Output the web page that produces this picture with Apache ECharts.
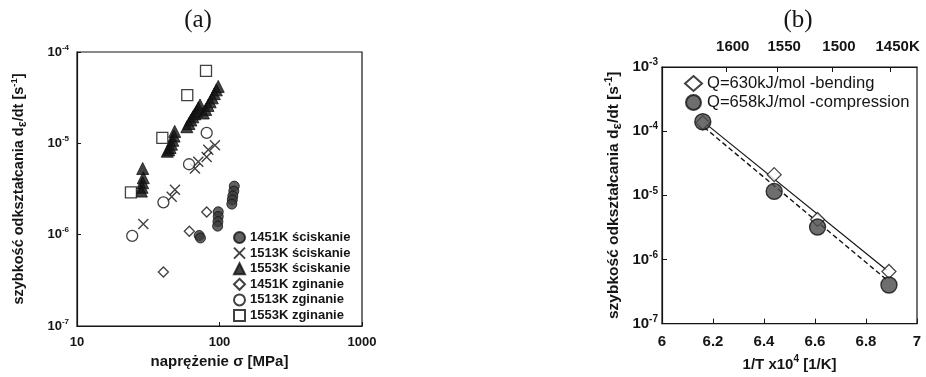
<!DOCTYPE html>
<html>
<head>
<meta charset="utf-8">
<script src="https://cdn.jsdelivr.net/npm/echarts@6/dist/echarts.min.js"></script>
<style>
  html, body { margin: 0; padding: 0; background: #fff; }
  #chart { width: 926px; height: 377px; }
</style>
</head>
<body>
<div id="chart"></div>
<script>
// (a) strain rate vs stress, [stress MPa, rate 1/s]
const comp1451 = [[72, 9.8e-7], [73.5, 9.2e-7], [98, 1.78e-6], [98, 1.58e-6], [97.5, 1.39e-6], [97, 1.24e-6],
  [127, 3.4e-6], [126, 3.0e-6], [124, 2.65e-6], [123, 2.4e-6], [122, 2.16e-6]]
const comp1513 = [[29.2, 1.31e-6], [48.7, 3.1e-6], [46.2, 2.6e-6], [71, 6.3e-6], [67.3, 5.3e-6],
  [92.9, 9.5e-6], [83.4, 8.5e-6], [81.3, 7.1e-6]]
const comp1553 = [[28.9, 5.3e-6], [29.2, 4.2e-6], [28.9, 3.7e-6], [28.6, 3.3e-6], [28.3, 3.0e-6],
  [48.5, 1.35e-5], [48, 1.2e-5], [47, 1.08e-5], [46, 9.8e-6], [45, 9.0e-6], [44, 8.5e-6], [43, 8.2e-6],
  [59, 1.52e-5], [61, 1.65e-5], [63, 1.8e-5], [65, 1.95e-5], [67, 2.1e-5], [69, 2.25e-5], [71, 2.45e-5], [73, 2.63e-5],
  [77, 2.15e-5], [80, 2.35e-5], [83, 2.6e-5], [86, 2.85e-5], [89, 3.15e-5], [92, 3.5e-5], [95, 3.85e-5], [98, 4.2e-5]]
const bend1451 = [[40.4, 3.9e-7], [61.4, 1.09e-6], [81.3, 1.77e-6]]
const bend1513 = [[24.4, 9.7e-7], [40.4, 2.26e-6], [61.1, 5.9e-6], [81.3, 1.3e-5]]
const bend1553 = [[23.9, 2.9e-6], [39.7, 1.15e-5], [59.4, 3.38e-5], [80.4, 6.2e-5]]
const namesA = ['1451K ściskanie', '1513K ściskanie', '1553K ściskanie', '1451K zginanie', '1513K zginanie', '1553K zginanie']

// (b) Arrhenius plot
const invT = [6.16, 6.44, 6.61, 6.89]
const bendRate = [1.35e-4, 2.1e-5, 4.2e-6, 6.5e-7]
const compRate = [1.4e-4, 1.15e-5, 3.2e-6, 4.0e-7]
const bendFitX = [6.165, 6.882]
const bendFitY = [1.37e-4, 6.8e-7]
const compFitX = [6.165, 6.882]
const compFitY = [1.15e-4, 4.8e-7]
const topTemps = [1600, 1550, 1500, 1450]
const namesB = ['Q=630kJ/mol -bending', 'Q=658kJ/mol -compression']

const font = 'Liberation Sans'
const ink = '#151515'
const pow10 = v => `{b|10}{s|${Math.round(Math.log10(v))}}`
const rateName = '{n|szybkość odkształcania d}{e|ε}{n|/dt [s}{p|-1}{n|]}'
const nameRich = size => ({
  n: { fontFamily: font, fontSize: size, fontWeight: 'bold', color: ink, lineHeight: size + 5 },
  e: { fontFamily: font, fontSize: size - 2, fontWeight: 'bold', color: ink, verticalAlign: 'bottom', lineHeight: size + 5 },
  p: { fontFamily: font, fontSize: size - 5, fontWeight: 'bold', color: ink, verticalAlign: 'top', lineHeight: size + 5 }
})
const powRich = size => ({
  b: { fontFamily: font, fontSize: size, fontWeight: 'bold', color: ink, lineHeight: size + 4 },
  s: { fontFamily: font, fontSize: size - 5, fontWeight: 'bold', color: ink, verticalAlign: 'top', lineHeight: size + 4 }
})
const tickLabel = { fontFamily: font, fontSize: 13, fontWeight: 'bold', color: ink }
const crossPath = 'path://M0,0L10,10M10,0L0,10'

const chart = echarts.init(document.getElementById('chart'))

const option = {
  backgroundColor: '#fff',
  animation: false,
  graphic: [
    { type: 'text', x: 198, y: 20, style: { text: '(a)', font: '25px "Liberation Serif"', fill: ink, textAlign: 'center', textVerticalAlign: 'middle' } },
    { type: 'text', x: 798, y: 20, style: { text: '(b)', font: '25px "Liberation Serif"', fill: ink, textAlign: 'center', textVerticalAlign: 'middle' } }
  ],
  grid: [
    { left: 77, top: 52, width: 285, height: 274, show: true, borderColor: ink, borderWidth: 1.2 },
    { left: 662, top: 67, width: 255, height: 268, show: true, borderColor: ink, borderWidth: 1.2 }
  ],
  legend: [
    {
      data: namesA.map(n => ({ name: n })),
      orient: 'vertical',
      left: 233,
      top: 231,
      padding: 0,
      itemGap: 2.6,
      itemWidth: 11,
      itemHeight: 11,
      textStyle: { fontFamily: font, fontSize: 13, fontWeight: 'bold', color: ink }
    },
    {
      data: namesB.map(n => ({ name: n })),
      orient: 'vertical',
      left: 684,
      top: 75,
      padding: 0,
      itemGap: 2,
      itemWidth: 17,
      itemHeight: 15,
      textStyle: { fontFamily: font, fontSize: 16.6, color: ink }
    }
  ],
  xAxis: [
    {
      type: 'log', logBase: 10, min: 10, max: 1000, gridIndex: 0,
      name: 'naprężenie σ [MPa]', nameLocation: 'middle', nameGap: 28,
      nameTextStyle: { fontFamily: font, fontSize: 15, fontWeight: 'bold', color: ink },
      axisLine: { lineStyle: { color: ink, width: 1.2 } },
      axisTick: { inside: true, length: 4, lineStyle: { color: ink } },
      axisLabel: Object.assign({ margin: 10, formatter: v => String(Math.round(v)) }, tickLabel),
      splitLine: { show: false }
    },
    {
      type: 'value', min: 6, max: 7, interval: 0.2, gridIndex: 1,
      name: '{n|1/T x10}{p|4}{n| [1/K]}', nameLocation: 'middle', nameGap: 24,
      nameTextStyle: { rich: nameRich(15) },
      axisLine: { lineStyle: { color: ink, width: 1.2 } },
      axisTick: { inside: true, length: 5, lineStyle: { color: ink } },
      axisLabel: Object.assign({ margin: 11, formatter: v => +v.toFixed(1) + '' }, tickLabel, { fontSize: 15 }),
      splitLine: { show: false }
    },
    {
      type: 'value', min: 6, max: 7, gridIndex: 1, position: 'top',
      axisLine: { lineStyle: { color: ink, width: 1.2 } },
      axisTick: { inside: true, length: 5, customValues: topTemps.map(t => 1e4 / t), lineStyle: { color: ink } },
      axisLabel: Object.assign({
        margin: 13,
        padding: [0, 0, 0, 14],
        customValues: topTemps.map(t => 1e4 / t),
        formatter: v => {
          const t = Math.round(1e4 / v)
          return t === topTemps[topTemps.length - 1] ? t + 'K' : t + ''
        }
      }, tickLabel, { fontSize: 15 }),
      splitLine: { show: false }
    }
  ],
  yAxis: [
    {
      type: 'log', logBase: 10, min: 1e-7, max: 1e-4, gridIndex: 0,
      name: rateName, nameLocation: 'middle', nameGap: 48,
      nameTextStyle: { rich: nameRich(14.5) },
      axisLine: { lineStyle: { color: ink, width: 1.2 } },
      axisTick: { inside: true, length: 4, lineStyle: { color: ink } },
      axisLabel: { margin: 8, formatter: pow10, rich: powRich(13) },
      splitLine: { show: false }
    },
    {
      type: 'log', logBase: 10, min: 1e-7, max: 1e-3, gridIndex: 1,
      name: rateName, nameLocation: 'middle', nameGap: 38,
      nameTextStyle: { rich: nameRich(15.5) },
      axisLine: { lineStyle: { color: ink, width: 1.2 } },
      axisTick: { inside: true, length: 5, lineStyle: { color: ink } },
      axisLabel: { margin: 4, formatter: pow10, rich: powRich(15) },
      splitLine: { show: false }
    }
  ],
  series: [
    {
      name: namesA[0], type: 'scatter', xAxisIndex: 0, yAxisIndex: 0, data: comp1451,
      symbol: 'circle', symbolSize: 10,
      itemStyle: { color: '#3a3a3a', borderColor: '#111', borderWidth: 1 }
    },
    {
      name: namesA[1], type: 'scatter', xAxisIndex: 0, yAxisIndex: 0, data: comp1513,
      symbol: crossPath, symbolSize: 10,
      itemStyle: { color: 'transparent', borderColor: '#111', borderWidth: 1.4 }
    },
    {
      name: namesA[2], type: 'scatter', xAxisIndex: 0, yAxisIndex: 0, data: comp1553,
      symbol: 'triangle', symbolSize: 12,
      itemStyle: { color: '#111', borderColor: '#111', borderWidth: 1 }
    },
    {
      name: namesA[3], type: 'scatter', xAxisIndex: 0, yAxisIndex: 0, data: bend1451,
      symbol: 'diamond', symbolSize: 10,
      itemStyle: { color: '#fff', borderColor: '#111', borderWidth: 1.3 }
    },
    {
      name: namesA[4], type: 'scatter', xAxisIndex: 0, yAxisIndex: 0, data: bend1513,
      symbol: 'circle', symbolSize: 11,
      itemStyle: { color: '#fff', borderColor: '#111', borderWidth: 1.3 }
    },
    {
      name: namesA[5], type: 'scatter', xAxisIndex: 0, yAxisIndex: 0, data: bend1553,
      symbol: 'rect', symbolSize: 11,
      itemStyle: { color: '#fff', borderColor: '#111', borderWidth: 1.3 }
    },
    {
      type: 'line', xAxisIndex: 1, yAxisIndex: 1, data: bendFitX.map((x, i) => [x, bendFitY[i]]),
      symbol: 'none', lineStyle: { color: ink, width: 1.2, type: 'solid' }, z: 1
    },
    {
      type: 'line', xAxisIndex: 1, yAxisIndex: 1, data: compFitX.map((x, i) => [x, compFitY[i]]),
      symbol: 'none', lineStyle: { color: ink, width: 1.4, type: [5, 3] }, z: 1
    },
    {
      name: namesB[0], type: 'scatter', xAxisIndex: 1, yAxisIndex: 1, data: invT.map((x, i) => [x, bendRate[i]]),
      symbol: 'diamond', symbolSize: 14,
      itemStyle: { color: '#fff', borderColor: '#111', borderWidth: 1.2 }, z: 2
    },
    {
      name: namesB[1], type: 'scatter', xAxisIndex: 1, yAxisIndex: 1, data: invT.map((x, i) => [x, compRate[i]]),
      symbol: 'circle', symbolSize: 16,
      itemStyle: { color: '#4a4a4a', borderColor: '#111', borderWidth: 1.4 }, z: 3
    }
  ]
}

chart.setOption(option)
</script>
</body>
</html>
